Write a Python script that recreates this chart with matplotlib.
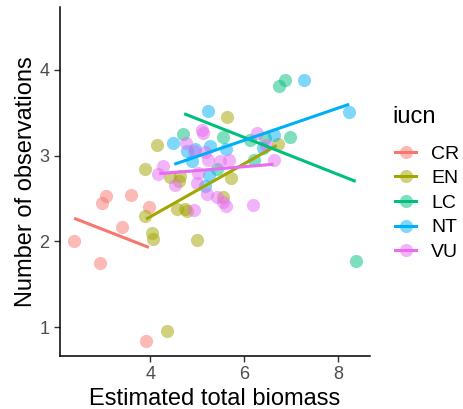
import numpy as np
import matplotlib.pyplot as plt
from matplotlib.lines import Line2D
from matplotlib.colors import to_rgba

plt.rcParams['font.family'] = ['Liberation Sans', 'DejaVu Sans']

groups = ['CR', 'EN', 'LC', 'NT', 'VU']
colors = ['#F8766D', '#A3A500', '#00BF7D', '#00B0F6', '#E76BF3']

# biomass (x) and observations (y) per iucn group
cr_x = [2.37, 2.93, 2.97, 3.05, 3.59, 3.40, 3.98, 3.91]
cr_y = [2.00, 1.75, 2.45, 2.53, 2.54, 2.17, 2.40, 0.84]

en_x = [3.89, 4.14, 5.64, 6.71, 3.89, 4.04, 4.05, 4.56, 4.74, 4.79, 5.00, 4.35,
        5.55, 5.72, 4.42, 4.60, 4.63]
en_y = [2.84, 3.12, 3.45, 3.14, 2.30, 2.10, 2.03, 2.38, 2.38, 2.36, 2.02, 0.95,
        2.52, 2.74, 2.75, 2.71, 2.76]

lc_x = [4.70, 5.55, 6.12, 6.44, 6.97, 6.74, 6.87, 6.21, 5.41, 8.37]
lc_y = [3.25, 3.22, 3.18, 3.21, 3.22, 3.81, 3.88, 2.95, 2.84, 1.77]

nt_x = [5.23, 4.49, 4.78, 4.96, 5.26, 5.61, 6.64, 6.40, 7.26, 8.23, 4.88, 5.25,
        5.16]
nt_y = [3.52, 3.15, 3.05, 3.08, 3.11, 3.08, 3.24, 3.09, 3.88, 3.51, 2.94, 2.77,
        2.65]

vu_x = [5.09, 5.13, 4.77, 4.28, 4.17, 5.16, 5.23, 5.48, 5.67, 6.28, 6.46, 6.63,
        5.02, 4.99, 4.52, 5.20, 5.41, 5.54, 5.62, 6.19, 4.93, 4.92]
vu_y = [3.30, 3.27, 3.15, 2.88, 2.79, 3.04, 2.95, 2.94, 2.95, 3.27, 3.12, 2.95,
        2.80, 2.68, 2.66, 2.55, 2.52, 2.46, 2.41, 2.42, 2.37, 3.06]

xs = [cr_x, en_x, lc_x, nt_x, vu_x]
ys = [cr_y, en_y, lc_y, nt_y, vu_y]

# linear fit segments (start/end) per group
fit_x0 = [2.38, 3.91, 4.72, 4.51, 4.19]
fit_x1 = [3.97, 6.69, 8.37, 8.23, 6.62]
fit_y0 = [2.27, 2.26, 3.49, 2.90, 2.79]
fit_y1 = [1.93, 3.12, 2.70, 3.60, 2.90]

fig = plt.figure(figsize=(4.63, 4.09), dpi=100)
ax = fig.add_axes([60/463, 1-356/409, 310/463, 349/409])

for i in range(len(groups)):
    ax.scatter(xs[i], ys[i], s=90, color=colors[i], alpha=0.5, linewidths=0, zorder=2)
for i in range(len(groups)):
    ax.plot([fit_x0[i], fit_x1[i]], [fit_y0[i], fit_y1[i]], color=colors[i], lw=2.2,
            solid_capstyle='butt', zorder=3)

ax.set_xlim(2.079, 8.674)
ax.set_ylim(0.663, 4.735)
ax.set_xticks([4, 6, 8])
ax.set_yticks([1, 2, 3, 4])
ax.tick_params(labelsize=13, labelcolor='#4D4D4D', color='#333333', length=4, width=1)
for s in ['top', 'right']:
    ax.spines[s].set_visible(False)
for s in ['left', 'bottom']:
    ax.spines[s].set_linewidth(1.1)
ax.set_xlabel('Estimated total biomass', fontsize=17, labelpad=3)
ax.set_ylabel('Number of observations', fontsize=17, labelpad=2)

handles = []
for c in colors:
    handles.append(Line2D([0], [0], color=c, lw=2.2, marker='o', markersize=9.5,
                          markerfacecolor=to_rgba(c, 0.5), markeredgewidth=0))
fig.legend(handles, groups, loc='upper left',
           bbox_to_anchor=(395/463, 1-145/409), frameon=False, fontsize=14,
           handlelength=1.1, handletextpad=0.75,
           labelspacing=0.36, borderpad=0, borderaxespad=0)
fig.text(392/463, 1-117/409, 'iucn', fontsize=17, ha='left', va='center')

fig.savefig('out.png', dpi=100)
